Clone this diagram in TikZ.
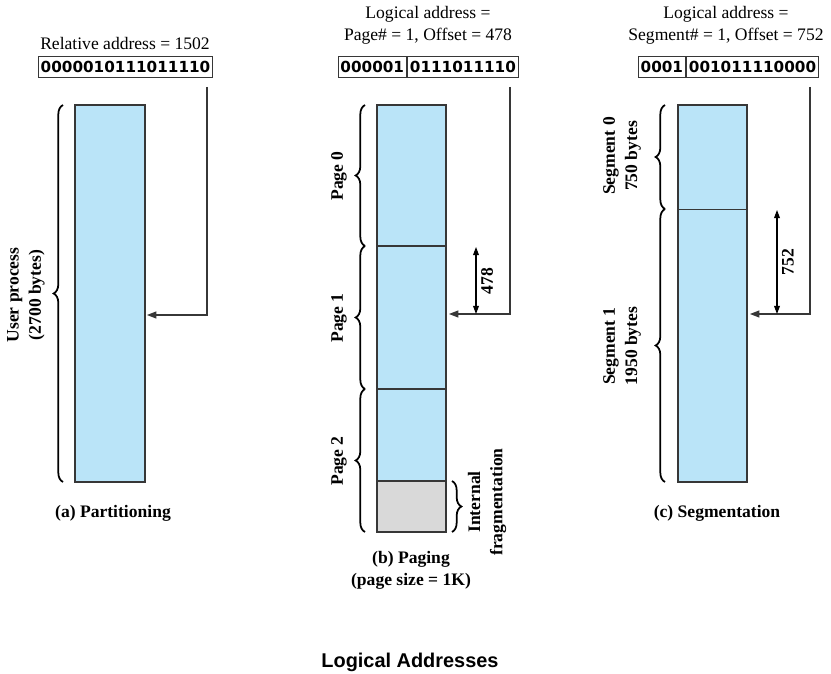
\documentclass[tikz,border=0pt]{standalone}
\usepackage{fontspec}
\setmainfont{Liberation Serif}
\newfontfamily\addrfont{DejaVu Sans}
\newfontfamily\titlefont{Liberation Sans}
\usetikzlibrary{arrows.meta,decorations.pathreplacing}
\definecolor{memblue}{RGB}{186,228,248}
\definecolor{fraggray}{RGB}{217,217,217}
\definecolor{edgegray}{RGB}{55,55,55}
\tikzset{
  lbl/.style={font=\fontsize{15}{19}\selectfont, align=center, inner sep=0pt},
  blbl/.style={lbl, font=\fontsize{15}{19}\selectfont\bfseries},
  addr/.style={draw=edgegray, line width=1pt, font=\addrfont\bfseries\fontsize{13}{15}\selectfont, inner xsep=2pt, inner ysep=0pt, minimum height=17.5pt},
  mem/.style={draw=edgegray, fill=memblue, line width=1pt},
  brc/.style={decorate, decoration={brace, amplitude=8pt}, line width=1.5pt},
  ptr/.style={draw=edgegray, line width=0.9pt, -{Triangle[length=8pt,width=6pt]}},
  dim/.style={draw=black, line width=0.9pt, {Triangle[length=7pt,width=5pt]}-{Triangle[length=7pt,width=5pt]}}
}
\begin{document}
\begin{tikzpicture}[x=0.03cm, y=-0.03cm]
        \useasboundingbox (0,0) rectangle (831,674);
        \node(rela)[lbl] at (125,43) {Relative address = 1502};
        \node(adra)[addr] at (125.5,67) {0000010111011110};
        \draw[mem] (75,105) rectangle (145,482);
        \coordinate(pa) at (207,87);
        \coordinate(ta) at (147,315);
        \draw[ptr] (pa) |- (ta);
        \draw[brc] (63,482) -- (63,105);
        \node(usr)[blbl, rotate=90] at (26,295) {User process\\(2700 bytes)};
        \node(capa)[blbl] at (113,513) {(a) Partitioning};

        \node(logb)[lbl] at (428,25) {Logical address =\\Page\# = 1, Offset = 478};
        \node(pgnum)[addr, anchor=east] at (407,67) {000001};
        \node(pgoff)[addr, anchor=west] at (407,67) {0111011110};
        \fill[memblue] (377,105) rectangle (446,481);
        \fill[fraggray] (377,481) rectangle (446,532);
        \draw[edgegray, line width=1pt] (377,481) -- (446,481);
        \draw[edgegray, line width=1.6pt] (377,246) -- (446,246);
        \draw[edgegray, line width=1.6pt] (377,389) -- (446,389);
        \draw[edgegray, line width=1.3pt] (377,105) rectangle (446,532);
        \coordinate(pb) at (510,87);
        \coordinate(tb) at (449,314);
        \draw[ptr] (pb) |- (tb);
        \coordinate(db1) at (476,247);
        \coordinate(db2) at (476,314);
        \draw[dim] (db1) -- (db2);
        \node(offb)[blbl, rotate=90] at (487,281) {478};
        \draw[brc] (365,246) -- (365,105);
        \draw[brc] (365,389) -- (365,246);
        \draw[brc] (365,532) -- (365,389);
        \node(pg0)[blbl, rotate=90] at (339,176) {Page 0};
        \node(pg1)[blbl, rotate=90] at (339,318) {Page 1};
        \node(pg2)[blbl, rotate=90] at (339,461) {Page 2};
        \draw[brc] (452,481) -- (452,532);
        \node(frag)[blbl, rotate=90] at (487,502) {Internal\\fragmentation};
        \node(capb)[blbl] at (411,570) {(b) Paging\\(page size = 1K)};

        \node(logc)[lbl] at (726,25) {Logical address =\\Segment\# = 1, Offset = 752};
        \node(sgnum)[addr, anchor=east] at (686,67) {0001};
        \node(sgoff)[addr, anchor=west] at (686,67) {001011110000};
        \draw[mem] (678,105) rectangle (747,482);
        \draw[edgegray, line width=0.8pt] (678,209) -- (747,209);
        \coordinate(pc) at (810,87);
        \coordinate(tc) at (750,314);
        \draw[ptr] (pc) |- (tc);
        \coordinate(dc1) at (777,210);
        \coordinate(dc2) at (777,314);
        \draw[dim] (dc1) -- (dc2);
        \node(offc)[blbl, rotate=90] at (788,262) {752};
        \draw[brc] (665,209) -- (665,105);
        \draw[brc] (665,482) -- (665,209);
        \node(sg0)[blbl, rotate=90] at (622,156) {Segment 0\\750 bytes};
        \node(sg1)[blbl, rotate=90] at (622,346) {Segment 1\\1950 bytes};
        \node(capc)[blbl] at (717,513) {(c) Segmentation};

        \node(title)[font=\titlefont\bfseries\fontsize{17}{20}\selectfont] at (410,662) {Logical Addresses};
\end{tikzpicture}
\end{document}
